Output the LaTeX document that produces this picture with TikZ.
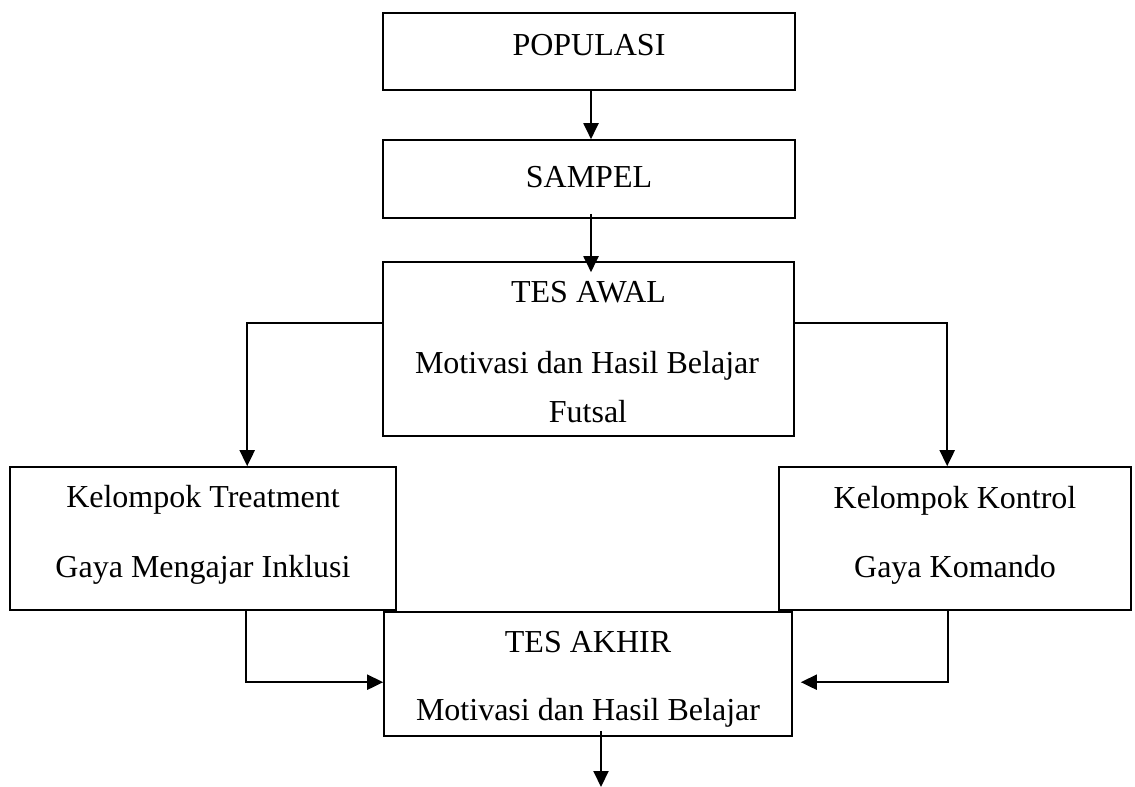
\documentclass[tikz,border=0pt]{standalone}
\usepackage{fontspec}
\setmainfont{Liberation Serif}
\usetikzlibrary{arrows.meta,calc}
\begin{document}
\begin{tikzpicture}[x=1pt,y=-1pt,
 box/.style={draw,line width=1.6pt,inner sep=0pt,rectangle},
 txt/.style={inner sep=0pt,anchor=base,font=\fontsize{32}{38}\selectfont},
 conn/.style={line width=2pt,-{Triangle[length=16pt,width=15pt]}}]
\useasboundingbox (0,0) rectangle (1135,787);
% boxes
\node[box,minimum width=412pt,minimum height=77pt] (pop) at (589,51.5) {};
\node[box,minimum width=412pt,minimum height=78pt] (sampel) at (589,179) {};
\node[box,minimum width=411pt,minimum height=174pt] (awal) at (588.5,349) {};
\node[box,minimum width=386pt,minimum height=143pt] (treat) at (203,538.5) {};
\node[box,minimum width=352pt,minimum height=143pt] (kontrol) at (955,538.5) {};
\node[box,minimum width=408pt,minimum height=124pt] (akhir) at (588,674) {};
% texts
\node[txt] (popT) at (589,55) {POPULASI};
\node[txt] (sampelT) at (589,187) {SAMPEL};
\node[txt] (awalT1) at (588.5,302) {TES AWAL};
\node[txt] (awalT2) at (587,373) {Motivasi dan Hasil Belajar};
\node[txt] (awalT3) at (588,422) {Futsal};
\node[txt] (treatT1) at (203,507) {Kelompok Treatment};
\node[txt] (treatT2) at (203,577) {Gaya Mengajar Inklusi};
\node[txt] (kontrolT1) at (955,508) {Kelompok Kontrol};
\node[txt] (kontrolT2) at (955,577) {Gaya Komando};
\node[txt] (akhirT1) at (588,652) {TES AKHIR};
\node[txt] (akhirT2) at (588,720) {Motivasi dan Hasil Belajar};
% connectors
\coordinate (endpt) at (601,787);
\draw[conn] ($(pop.south)+(2,0)$) -- ($(sampel.north)+(2,0)$);
\draw[conn] ($(sampel.south)+(2,-5)$) -- ($(awal.north)+(2.5,11)$);
\draw[conn] ($(awal.north west)+(0,62)$) -| ($(treat.north west)+(238,0)$);
\draw[conn] ($(awal.north east)+(0,62)$) -| ($(kontrol.north west)+(169,0)$);
\draw[conn] ($(treat.south west)+(237,0)$) |- ($(akhir.north west)+(0,71)$);
\draw[conn] ($(kontrol.south west)+(170,0)$) |- ($(akhir.north east)+(8,71)$);
\draw[conn] ($(akhir.south)+(13,-6)$) -- (endpt);
\end{tikzpicture}
\end{document}
